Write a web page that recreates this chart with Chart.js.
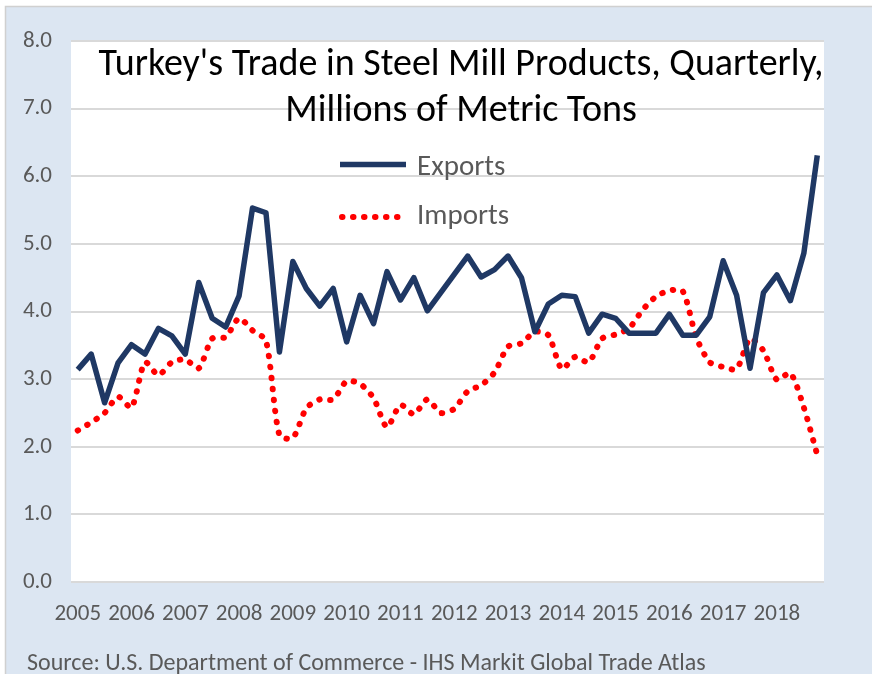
<!DOCTYPE html>
<html>
<head>
<meta charset="utf-8">
<script src="https://cdn.jsdelivr.net/npm/chart.js@4.4.0/dist/chart.umd.min.js"></script>
<style>
    html, body { margin: 0; padding: 0; background: #ffffff; }
    #caixa { width: 872px; height: 674px; }
</style>
</head>
<body>
<div id="caixa"><canvas id="canvas-grafico" width="872" height="674"></canvas></div>
<script>
// dados (milhoes de toneladas, trimestral 2005-2018)
var anos = ["2005", "2006", "2007", "2008", "2009", "2010", "2011", "2012", "2013", "2014", "2015", "2016", "2017", "2018"];
var trimestres = ["Q1", "Q2", "Q3", "Q4"];

var exportacoes = [3.14, 3.37, 2.65, 3.24, 3.51, 3.37, 3.75, 3.64, 3.37, 4.43, 3.90, 3.77, 4.23, 5.53,
                   5.46, 3.40, 4.74, 4.34, 4.08, 4.34, 3.55, 4.24, 3.82, 4.59, 4.17, 4.50, 4.01, 4.28,
                   4.55, 4.82, 4.51, 4.62, 4.82, 4.50, 3.70, 4.11, 4.24, 4.22, 3.68, 3.96, 3.90, 3.68,
                   3.68, 3.68, 3.96, 3.65, 3.65, 3.92, 4.75, 4.24, 3.16, 4.28, 4.54, 4.16, 4.86, 6.31];

var importacoes = [2.24, 2.36, 2.50, 2.74, 2.58, 3.25, 3.06, 3.25, 3.29, 3.16, 3.60, 3.62, 3.90, 3.72,
                   3.57, 2.17, 2.13, 2.57, 2.70, 2.70, 2.97, 2.93, 2.72, 2.29, 2.62, 2.48, 2.70, 2.50,
                   2.56, 2.82, 2.91, 3.10, 3.48, 3.53, 3.70, 3.65, 3.15, 3.33, 3.25, 3.60, 3.66, 3.75,
                   4.02, 4.22, 4.31, 4.30, 3.62, 3.25, 3.18, 3.15, 3.60, 3.42, 2.99, 3.09, 2.58, 1.88];

var titulo = ["Turkey's Trade in Steel Mill Products, Quarterly,", "Millions of Metric Tons"];
var fonte_texto = "Source: U.S. Department of Commerce - IHS Markit Global Trade Atlas";

var categorias = [];
anos.forEach(function(ano) {
    trimestres.forEach(function(t) { categorias.push(ano + " " + t); });
});

var fonte = "Carlito, Lato, 'Open Sans', sans-serif";
var cinza = "#595959";

var enfeites = {
    id: "enfeites",
    beforeDraw: function(chart) {
        var ctx = chart.ctx, a = chart.chartArea;
        ctx.save();
        ctx.fillStyle = "#ffffff";
        ctx.fillRect(0, 0, chart.width, chart.height);
        ctx.fillStyle = "#dce6f2";
        ctx.fillRect(6, 7, chart.width - 6, chart.height - 7);
        ctx.strokeStyle = "#d0d0d0";
        ctx.lineWidth = 1.5;
        ctx.beginPath();
        ctx.moveTo(5.5, chart.height);
        ctx.lineTo(5.5, 6.5);
        ctx.lineTo(chart.width, 6.5);
        ctx.stroke();
        ctx.fillStyle = "#ffffff";
        ctx.fillRect(a.left, a.top, a.right - a.left, a.bottom - a.top);
        ctx.restore();
    },
    afterDraw: function(chart) {
        var ctx = chart.ctx;
        var ds = chart.data.datasets;
        ctx.save();

        // titulo dentro da area do grafico
        ctx.fillStyle = "#000000";
        ctx.font = "38px " + fonte;
        ctx.textAlign = "center";
        ctx.textBaseline = "alphabetic";
        ctx.fillText(titulo[0], 461, 74.5);
        ctx.fillText(titulo[1], 461, 121);

        // legenda
        ctx.lineWidth = ds[0].borderWidth;
        ctx.strokeStyle = ds[0].borderColor;
        ctx.beginPath();
        ctx.moveTo(340, 164.5);
        ctx.lineTo(406, 164.5);
        ctx.stroke();

        ctx.lineWidth = ds[1].borderWidth;
        ctx.strokeStyle = ds[1].borderColor;
        ctx.lineCap = "round";
        ctx.setLineDash(ds[1].borderDash);
        ctx.beginPath();
        ctx.moveTo(342, 217);
        ctx.lineTo(406, 217);
        ctx.stroke();
        ctx.setLineDash([]);

        ctx.fillStyle = cinza;
        ctx.font = "29px " + fonte;
        ctx.textAlign = "left";
        ctx.fillText(ds[0].label, 417, 175);
        ctx.fillText(ds[1].label, 417, 224);

        // fonte
        ctx.font = "24px " + fonte;
        ctx.fillText(fonte_texto, 27, 670);
        ctx.restore();
    }
};

var canvas = document.getElementById("canvas-grafico");
var chart = new Chart(canvas, {
    type: "line",
    data: {
        labels: categorias,
        datasets: [
            {
                label: "Exports",
                data: exportacoes,
                borderColor: "#1f3864",
                borderWidth: 5.5,
                borderJoinStyle: "round",
                pointRadius: 0,
                tension: 0,
                fill: false
            },
            {
                label: "Imports",
                data: importacoes,
                borderColor: "#ff0000",
                borderWidth: 6,
                borderDash: [0.5, 10.5],
                borderCapStyle: "round",
                pointRadius: 0,
                tension: 0.25,
                fill: false
            }
        ]
    },
    options: {
        responsive: false,
        animation: false,
        events: [],
        layout: { padding: { left: 0, right: 48, top: 41, bottom: 0 } },
        plugins: {
            legend: { display: false },
            title: { display: false },
            tooltip: { enabled: false }
        },
        scales: {
            x: {
                offset: true,
                grid: { display: false, drawTicks: false },
                border: { display: false },
                ticks: {
                    autoSkip: false,
                    maxRotation: 0,
                    padding: 18,
                    color: cinza,
                    font: { family: fonte, size: 23 },
                    callback: function(valor, indice) {
                        return indice % 4 === 0 ? anos[indice / 4] : "";
                    }
                },
                afterFit: function(escala) { escala.height = 92; }
            },
            y: {
                min: 0,
                max: 8,
                grid: { color: "#d9d9d9", lineWidth: 2, drawTicks: false },
                border: { display: false },
                ticks: {
                    stepSize: 1,
                    padding: 19,
                    color: cinza,
                    font: { family: fonte, size: 23 },
                    callback: function(valor) { return valor.toFixed(1); }
                },
                afterFit: function(escala) { escala.width = 71; }
            }
        }
    },
    plugins: [enfeites]
});
</script>
</body>
</html>
